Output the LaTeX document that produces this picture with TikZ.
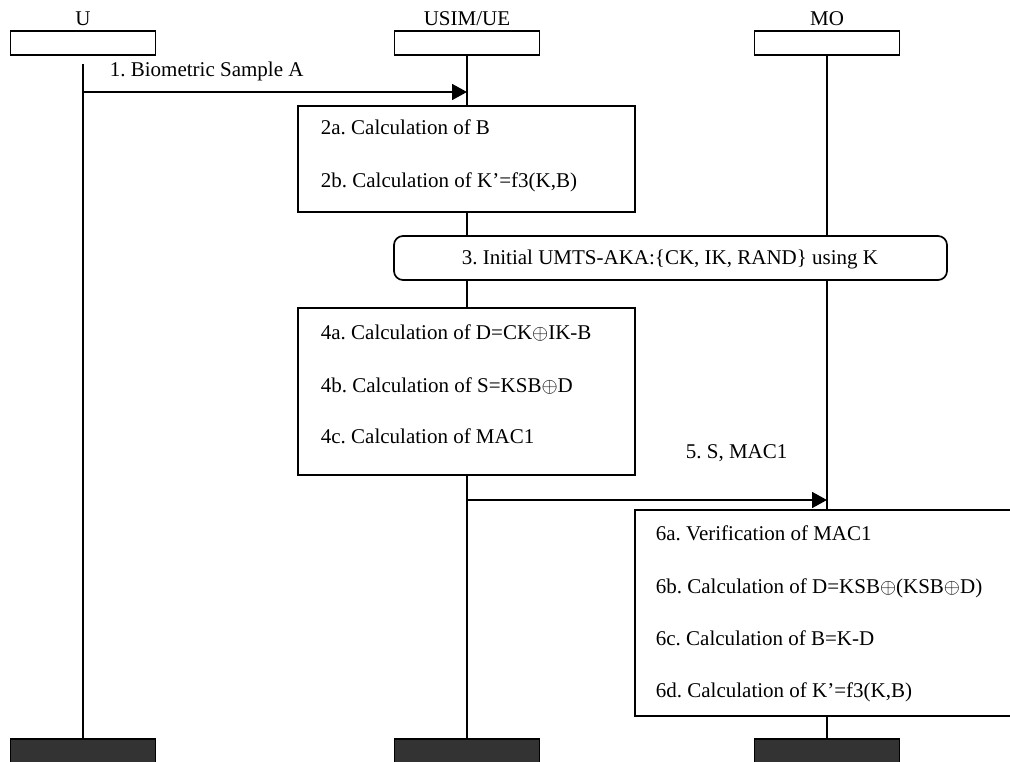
\documentclass[tikz,border=0pt]{standalone}
\usepackage{fontspec}
\setmainfont{Liberation Serif}
\usetikzlibrary{arrows.meta}
\frenchspacing
\begin{document}
\begin{tikzpicture}[x=1pt,y=-1pt,
  line width=1.7pt,
  every node/.style={font=\fontsize{21}{25}\selectfont\frenchspacing, inner sep=0pt},
  headbox/.style={draw, minimum width=145pt, minimum height=24pt},
  footbox/.style={draw, fill=black!80, minimum width=145pt, minimum height=30pt},
  procbox/.style={draw},
  lbl/.style={anchor=base west},
  msg/.style={-{Triangle[length=15pt,width=16pt]}}]
\useasboundingbox (0,0) rectangle (1010,762);
% actors
\node[anchor=base] (lu) at (83,26) {U};
\node[anchor=base] (lusim) at (467,26) {USIM/UE};
\node[anchor=base] (lmo) at (827,26) {MO};
\node[headbox] (hu) at (83,43) {};
\node[headbox] (husim) at (467,43) {};
\node[headbox] (hmo) at (827,43) {};
\node[footbox] (fu) at (83,754) {};
\node[footbox] (fusim) at (467,754) {};
\node[footbox] (fmo) at (827,754) {};
% process boxes
\node[procbox, minimum width=337pt, minimum height=106pt] (b2) at (466.5,159) {};
\node[procbox, rounded corners=9pt, minimum width=553pt, minimum height=44pt] (b3) at (670.5,258) {};
\node[procbox, minimum width=337pt, minimum height=167pt] (b4) at (466.5,391.5) {};
\node[procbox, minimum width=380pt, minimum height=206pt] (b6) at (825,613) {};
% texts
\node[lbl] (t1) at (109,77) {1. Biometric Sample A};
\node[lbl] (t2a) at (320,135) {2a. Calculation of B};
\node[lbl] (t2b) at (320,188) {2b. Calculation of K’=f3(K,B)};
\node[anchor=base] (t3) at (670,265) {3. Initial UMTS-AKA:\{CK, IK, RAND\} using K};
\node[lbl] (t4a) at (320,339) {4a. Calculation of D=CK$\oplus$IK-B};
\node[lbl] (t4b) at (320,392) {4b. Calculation of S=KSB$\oplus$D};
\node[lbl] (t4c) at (320,443) {4c. Calculation of MAC1};
\node[lbl] (t5) at (685,458) {5. S, MAC1};
\node[lbl] (t6a) at (655,540) {6a. Verification of MAC1};
\node[lbl] (t6b) at (655,593) {6b. Calculation of D=KSB$\oplus$(KSB$\oplus$D)};
\node[lbl] (t6c) at (655,645) {6c. Calculation of B=K-D};
\node[lbl] (t6d) at (655,697) {6d. Calculation of K’=f3(K,B)};
% lifelines
\coordinate (us) at (83,64);
\draw (us) -- (fu.north);
\draw (husim.south) -- (husim.south |- b2.north);
\draw (husim.south |- b2.south) -- (husim.south |- b3.north);
\draw (husim.south |- b3.south) -- (husim.south |- b4.north);
\draw (husim.south |- b4.south) -- (fusim.north);
\draw (hmo.south) -- (hmo.south |- b3.north);
\draw (hmo.south |- b3.south) -- (hmo.south |- b6.north);
\draw (hmo.south |- b6.south) -- (fmo.north);
% messages
\coordinate (m1s) at (83,92);
\coordinate (m1e) at (467,92);
\draw[msg] (m1s) -- (m1e);
\coordinate (m5s) at (467,500);
\coordinate (m5e) at (827,500);
\draw[msg] (m5s) -- (m5e);
\end{tikzpicture}
\end{document}
